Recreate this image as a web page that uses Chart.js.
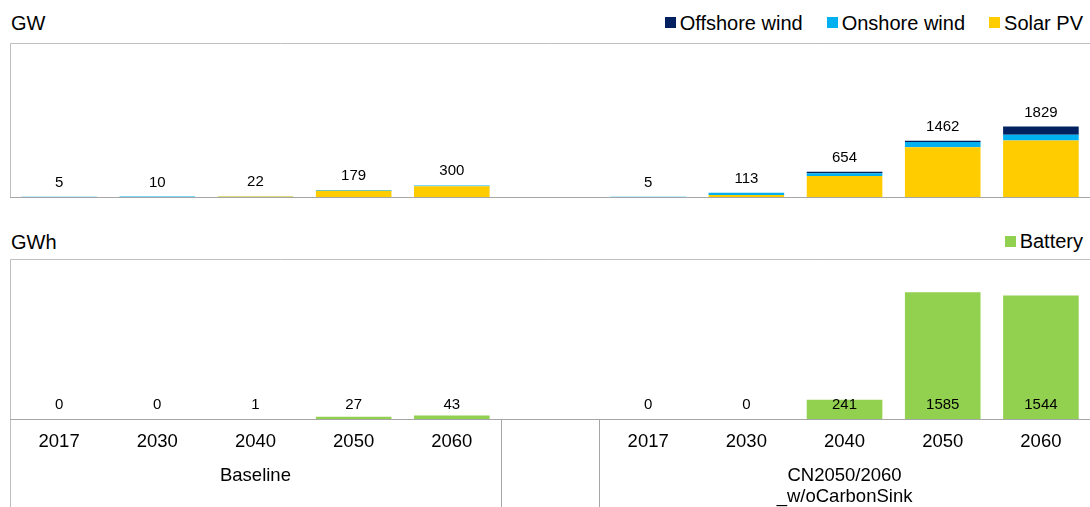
<!DOCTYPE html>
<html>
<head>
<meta charset="utf-8">
<title>Renewables and battery capacity</title>
<script src="https://cdn.jsdelivr.net/npm/chart.js@4.4.0/dist/chart.umd.min.js"></script>
<style>
    body {
        margin: 0;
        background: #fff;
        width: 1090px;
        height: 507px;
        overflow: hidden;
        position: relative;
        font-family: 'Liberation Sans', Arial, sans-serif;
        color: #000;
    }
    .unit {
        position: absolute;
        left: 11px;
        font-size: 20px;
        line-height: 22px;
    }
    .legend {
        position: absolute;
        right: 7px;
        display: flex;
        align-items: center;
        font-size: 20px;
        line-height: 22px;
    }
    .legend .item {
        display: flex;
        align-items: center;
        margin-left: 24px;
    }
    .legend .box {
        width: 11px;
        height: 11px;
        margin-right: 4px;
    }
    canvas { position: absolute; left: 0; }
</style>
</head>
<body>
<div class="unit" style="top:11.5px">GW</div>
<div class="legend" id="powerLegend" style="top:11.5px"></div>
<canvas id="powerChart" width="1090" height="210" style="top:0"></canvas>

<div class="unit" style="top:231px">GWh</div>
<div class="legend" id="storageLegend" style="top:230px"></div>
<canvas id="storageChart" width="1090" height="297" style="top:210px"></canvas>

<script>
// Years per scenario and the scenario (group) names
const years = ['2017', '2030', '2040', '2050', '2060'];
const scenarios = [['Baseline'], ['CN2050/2060', '_w/oCarbonSink']];

// Installed capacity, GW (first 5 = Baseline, last 5 = CN2050/2060)
const solarPV      = [1, 3, 12, 165, 280,   1, 50, 545, 1295, 1470];
const onshoreWind  = [4, 7, 10, 14, 20,     4, 60, 72, 135, 150];
const offshoreWind = [0, 0, 0, 0, 0,        0, 3, 37, 32, 209];

// Battery storage, GWh
const battery = [0, 0, 1, 27, 43,   0, 0, 241, 1585, 1544];

const FONT = "'Liberation Sans', Arial, sans-serif";
const FRAME = '#bfbfbf';
const AXIS = '#a6a6a6';

// an empty category separates the two scenarios
const labels = [...years, '', ...years];
const GAP = years.length;
const withGap = arr => [...arr.slice(0, GAP), null, ...arr.slice(GAP)];

/**
 * Frame around the plot area, value labels and the scenario axis
 */
const panelPlugin = {
    id: 'panel',
    afterDatasetsDraw(chart, args, opts) {
        const { ctx, chartArea: a, scales } = chart;
        const x = scales.x, y = scales.y;
        ctx.save();
        ctx.lineWidth = 1;

        // top and left border
        ctx.strokeStyle = FRAME;
        ctx.beginPath();
        ctx.moveTo(a.left + 0.5, opts.groups ? chart.height : a.bottom);
        ctx.lineTo(a.left + 0.5, a.top + 0.5);
        ctx.lineTo(a.right, a.top + 0.5);
        ctx.stroke();

        // axis line
        ctx.strokeStyle = AXIS;
        ctx.beginPath();
        ctx.moveTo(a.left, Math.round(a.bottom) + 0.5);
        ctx.lineTo(a.right, Math.round(a.bottom) + 0.5);
        ctx.stroke();

        // value labels: stack totals above the bars, or at the base
        ctx.fillStyle = '#000';
        ctx.font = '15px ' + FONT;
        ctx.textAlign = 'center';
        ctx.textBaseline = 'alphabetic';
        chart.data.labels.forEach((lbl, i) => {
            if (chart.data.datasets[0].data[i] === null) return;
            const total = chart.data.datasets.reduce((s, ds) => s + ds.data[i], 0);
            const px = x.getPixelForValue(i);
            const py = opts.atBase ? a.bottom - 10.5 : y.getPixelForValue(total) - 10;
            ctx.fillText(String(total), px, py);
        });

        // group separators and scenario names under the axis
        if (opts.groups) {
            const edge = i => (x.getPixelForValue(i) + x.getPixelForValue(i + 1)) / 2;
            ctx.strokeStyle = AXIS;
            ctx.beginPath();
            [edge(GAP - 1), edge(GAP)].forEach(v => {
                const px = Math.round(v) + 0.5;
                ctx.moveTo(px, a.bottom);
                ctx.lineTo(px, chart.height);
            });
            ctx.stroke();

            ctx.font = '18.5px ' + FONT;
            scenarios.forEach((lines, g) => {
                const mid = g * (GAP + 1) + Math.floor(GAP / 2);
                const px = x.getPixelForValue(mid);
                lines.forEach((line, k) => {
                    ctx.fillText(line, px, a.bottom + 61.5 + k * 21.5);
                });
            });
        }
        ctx.restore();
    }
};

function buildLegend(elId, datasets) {
    const el = document.getElementById(elId);
    datasets.forEach(ds => {
        const item = document.createElement('div');
        item.className = 'item';
        const box = document.createElement('span');
        box.className = 'box';
        box.style.background = ds.backgroundColor;
        const text = document.createElement('span');
        text.textContent = ds.label;
        item.appendChild(box);
        item.appendChild(text);
        el.appendChild(item);
    });
}

// Capacity chart (stacked, solar at the bottom)
const powerDatasets = [
    { label: 'Solar PV', data: withGap(solarPV), backgroundColor: '#FFCC00' },
    { label: 'Onshore wind', data: withGap(onshoreWind), backgroundColor: '#00B0F0' },
    { label: 'Offshore wind', data: withGap(offshoreWind), backgroundColor: '#002060' }
];

new Chart(document.getElementById('powerChart').getContext('2d'), {
    type: 'bar',
    data: { labels: labels, datasets: powerDatasets },
    options: {
        responsive: false,
        animation: false,
        categoryPercentage: 1,
        barPercentage: 0.77,
        layout: { padding: { top: 43, left: 10, right: 0, bottom: 13 } },
        plugins: {
            legend: { display: false },
            tooltip: { enabled: false },
            panel: { atBase: false }
        },
        scales: {
            x: { display: false, stacked: true },
            y: { display: false, min: 0, max: 4000, stacked: true }
        }
    },
    plugins: [panelPlugin]
});
buildLegend('powerLegend', powerDatasets.slice().reverse());

// Storage chart
const storageDatasets = [
    { label: 'Battery', data: withGap(battery), backgroundColor: '#92D050' }
];

new Chart(document.getElementById('storageChart').getContext('2d'), {
    type: 'bar',
    data: { labels: labels, datasets: storageDatasets },
    options: {
        responsive: false,
        animation: false,
        categoryPercentage: 1,
        barPercentage: 0.77,
        layout: { padding: { top: 49, left: 10, right: 0, bottom: 0 } },
        plugins: {
            legend: { display: false },
            tooltip: { enabled: false },
            panel: { atBase: true, groups: true }
        },
        scales: {
            x: {
                grid: { display: false, drawTicks: false },
                border: { display: false },
                afterFit: scale => { scale.height = 88; },
                ticks: {
                    autoSkip: false,
                    maxRotation: 0,
                    padding: 12,
                    color: '#000',
                    font: { size: 18.5, family: FONT }
                }
            },
            y: { display: false, min: 0, max: 2000 }
        }
    },
    plugins: [panelPlugin]
});
buildLegend('storageLegend', storageDatasets);
</script>
</body>
</html>
